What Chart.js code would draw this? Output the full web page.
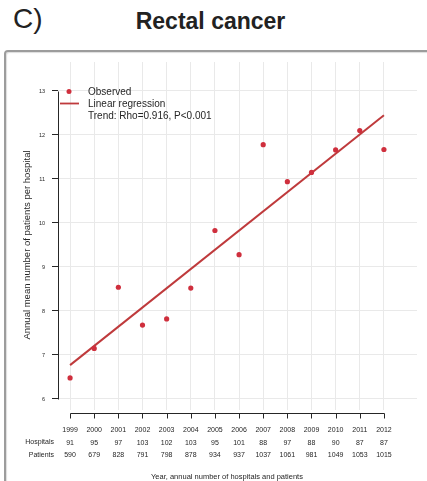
<!DOCTYPE html>
<html>
<head>
<meta charset="utf-8">
<script src="https://cdn.jsdelivr.net/npm/chart.js@4.4.1/dist/chart.umd.min.js"></script>
<style>
  html, body { margin: 0; padding: 0; background: #fff; }
  #wrap { position: relative; width: 427px; height: 481px; overflow: hidden; font-family: "Liberation Sans", Arial, sans-serif; }
  #label { position: absolute; left: 13px; top: 3px; font-size: 28px; color: #222; }
  #title { position: absolute; left: 0; width: 421px; top: 8px; text-align: center; font-size: 23px; font-weight: bold; color: #222; }
  #panel { position: absolute; left: 4px; top: 50px; width: 440px; height: 450px; border: 2px solid #9c9c9c; border-radius: 4px; box-shadow: inset 1px 1px 1px #ddd; }
  #chart { position: absolute; left: 0; top: 0; }
</style>
</head>
<body>
<div id="wrap">
  <div id="label">C)</div>
  <div id="title">Rectal cancer</div>
  <div id="panel"></div>
  <canvas id="chart" width="427" height="481"></canvas>
</div>
<script>
// Annual figures, 1999-2012
const years = [1999, 2000, 2001, 2002, 2003, 2004, 2005, 2006, 2007, 2008, 2009, 2010, 2011, 2012];
const hospitals = [91, 95, 97, 103, 102, 103, 95, 101, 88, 97, 88, 90, 87, 87];
const patients = [590, 679, 828, 791, 798, 878, 934, 937, 1037, 1061, 981, 1049, 1053, 1015];
// Mean number of patients per hospital
const meanPerHospital = [6.48, 7.15, 8.54, 7.68, 7.82, 8.52, 9.83, 9.28, 11.78, 10.94, 11.15, 11.66, 12.10, 11.67];
// Fitted regression line, value at first and last year
const trendYears = [1999, 2012];
const trendValues = [6.77, 12.45];
const yTicks = [6, 7, 8, 9, 10, 11, 12, 13];

const RED_POINT = '#cf2f3d';
const RED_LINE = '#bf3a3c';
const INK = '#262626';
const FONT = '"Liberation Sans", Arial, sans-serif';

const observed = years.map((y, i) => ({ x: y, y: meanPerHospital[i] }));
const trend = trendYears.map((y, i) => ({ x: y, y: trendValues[i] }));

// R-style detached axes, row labels, axis titles and legend
const decorations = {
  id: 'decorations',
  afterDraw(chart) {
    const { ctx, scales: { x, y } } = chart;
    ctx.save();
    ctx.strokeStyle = INK;
    ctx.lineWidth = 1;

    // y axis line
    const ax = chart.chartArea.left + 0.5;
    ctx.beginPath();
    ctx.moveTo(ax, Math.round(y.getPixelForValue(yTicks[yTicks.length - 1])) + 0.5);
    ctx.lineTo(ax, Math.round(y.getPixelForValue(yTicks[0])) + 0.5);
    ctx.stroke();

    // x axis line with downward ticks
    const ay = chart.chartArea.bottom + 3.5;
    const x0 = x.getPixelForValue(years[0]);
    const x1 = x.getPixelForValue(years[years.length - 1]);
    ctx.beginPath();
    ctx.moveTo(Math.round(x0) + 0.5, ay);
    ctx.lineTo(Math.round(x1) + 0.5, ay);
    years.forEach(v => {
      const px = Math.round(x.getPixelForValue(v)) + 0.5;
      ctx.moveTo(px, ay);
      ctx.lineTo(px, ay + 5);
    });
    ctx.stroke();

    // row labels for the table under the x axis
    ctx.fillStyle = INK;
    ctx.font = '7px ' + FONT;
    ctx.textAlign = 'right';
    ctx.textBaseline = 'middle';
    ctx.fillText('Hospitals', 54, 442.5);
    ctx.fillText('Patients', 54, 455);

    // x axis title, centred on the year range
    ctx.textAlign = 'center';
    ctx.font = '7.5px ' + FONT;
    ctx.fillText('Year, annual number of hospitals and patients', (x0 + x1) / 2, 477);

    // y axis title, centred on the tick range
    const yc = (y.getPixelForValue(yTicks[0]) + y.getPixelForValue(yTicks[yTicks.length - 1])) / 2;
    ctx.save();
    ctx.translate(27, yc);
    ctx.rotate(-Math.PI / 2);
    ctx.font = '9.5px ' + FONT;
    ctx.fillText('Annual mean number of patients per hospital', 0, 0);
    ctx.restore();

    // legend
    ctx.textAlign = 'left';
    ctx.font = '10px ' + FONT;
    ctx.fillStyle = RED_POINT;
    ctx.beginPath();
    ctx.arc(69, 91.5, 2.5, 0, Math.PI * 2);
    ctx.fill();
    ctx.strokeStyle = RED_LINE;
    ctx.lineWidth = 1.8;
    ctx.beginPath();
    ctx.moveTo(60, 103.5);
    ctx.lineTo(79, 103.5);
    ctx.stroke();
    ctx.fillStyle = INK;
    ctx.fillText('Observed', 88, 92);
    ctx.fillText('Linear regression', 88, 104);
    ctx.fillText('Trend: Rho=0.916, P<0.001', 88, 116);

    ctx.restore();
  }
};

new Chart(document.getElementById('chart'), {
  type: 'scatter',
  data: {
    datasets: [
      {
        label: 'Observed',
        data: observed,
        backgroundColor: RED_POINT,
        borderColor: RED_POINT,
        pointRadius: 2.6,
        pointBorderWidth: 0,
        order: 0
      },
      {
        type: 'line',
        label: 'Linear regression',
        data: trend,
        borderColor: RED_LINE,
        borderWidth: 2,
        pointRadius: 0,
        fill: false,
        order: 1
      }
    ]
  },
  options: {
    responsive: false,
    animation: false,
    devicePixelRatio: 1,
    layout: { padding: { top: 62, right: 10, left: 0, bottom: 0 } },
    plugins: { legend: { display: false }, tooltip: { enabled: false }, title: { display: false } },
    scales: {
      x: {
        type: 'linear',
        min: 1998.5,
        max: 2013.37,
        afterBuildTicks: s => { s.ticks = years.map(v => ({ value: v })); },
        afterFit: s => { s.height = 71; },
        border: { display: false },
        grid: { color: '#e9e9e9', lineWidth: 1, drawTicks: false },
        ticks: {
          autoSkip: false,
          maxRotation: 0,
          minRotation: 0,
          padding: 14,
          color: INK,
          font: { size: 7, family: FONT, lineHeight: 1.79 },
          callback: (value) => {
            const i = years.indexOf(value);
            return [String(years[i]), String(hospitals[i]), String(patients[i])];
          }
        }
      },
      y: {
        min: 5.75,
        max: 13.659,
        afterBuildTicks: s => { s.ticks = yTicks.map(v => ({ value: v })); },
        afterFit: s => { s.width = 58; },
        border: { display: false },
        grid: { color: '#e9e9e9', lineWidth: 1, drawTicks: true, tickLength: 6, tickColor: INK },
        ticks: {
          padding: 7,
          color: INK,
          font: { size: 5.5, family: FONT }
        }
      }
    }
  },
  plugins: [decorations]
});
</script>
</body>
</html>
